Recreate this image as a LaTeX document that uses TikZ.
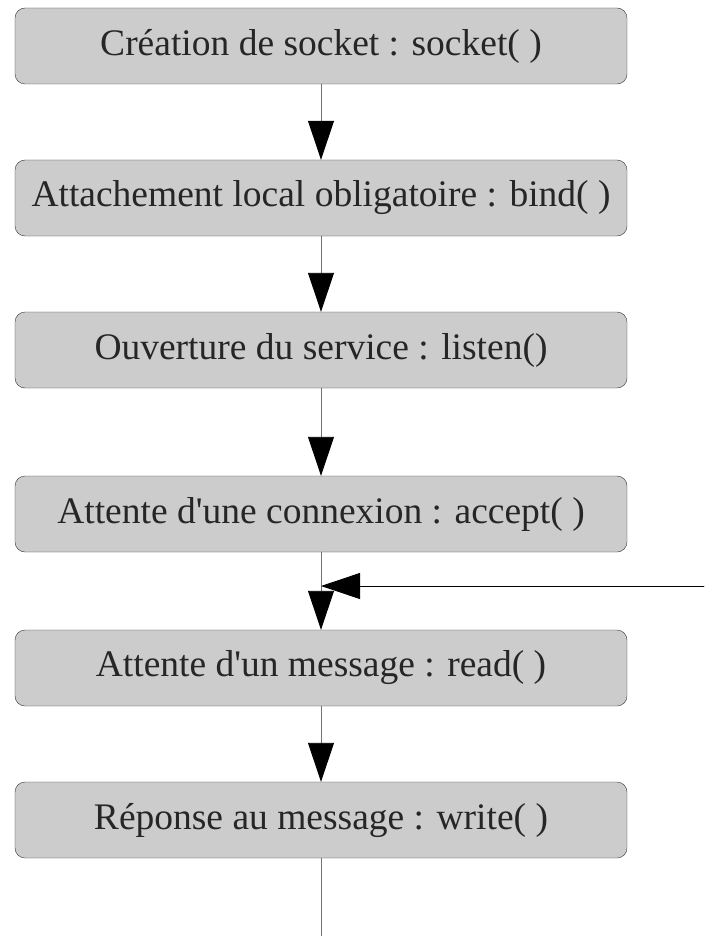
\documentclass[tikz,border=0pt]{standalone}
\usepackage{fontspec}
\setmainfont{Liberation Serif}
\usetikzlibrary{arrows.meta}
\tikzset{
  etape/.style={draw=black!80, fill=black!20, rounded corners=10pt,
    minimum width=612pt, minimum height=76pt, inner sep=0pt, text=black!85,
    font=\fontsize{37.5}{40}\selectfont},
  lien/.style={draw=black!55, line width=0.9pt},
  fleche/.style={lien, -{Triangle[length=39pt,width=26pt,color=black]}}
}
\begin{document}
\begin{tikzpicture}[x=1pt, y=-1pt, line cap=round, line join=round]
  \useasboundingbox (0,0) rectangle (704,936);
  \foreach \n/\y/\t in {s1/46/Création de socket : socket( ),
                        s2/198/Attachement local obligatoire : bind( ),
                        s3/350/Ouverture du service : listen(),
                        s4/514/Attente d\textquotesingle une connexion : accept( ),
                        s5/668/Attente d\textquotesingle un message : read( ),
                        s6/820/Réponse au message : write( )}
    \node[etape] (\n) at (321,\y) {\t};
  \foreach \a/\b in {s1/s2,s2/s3,s3/s4,s4/s5,s5/s6}
    \draw[fleche] (\a) -- (\b);
  % retour vers la lecture
  \coordinate (retour) at (704,586);
  \coordinate (jonction) at (s4.south |- retour);
  \draw[fleche, draw=black] (retour) -- (jonction);
  \coordinate (fin) at (321,936);
  \draw[lien] (s6) -- (fin);
\end{tikzpicture}
\end{document}
